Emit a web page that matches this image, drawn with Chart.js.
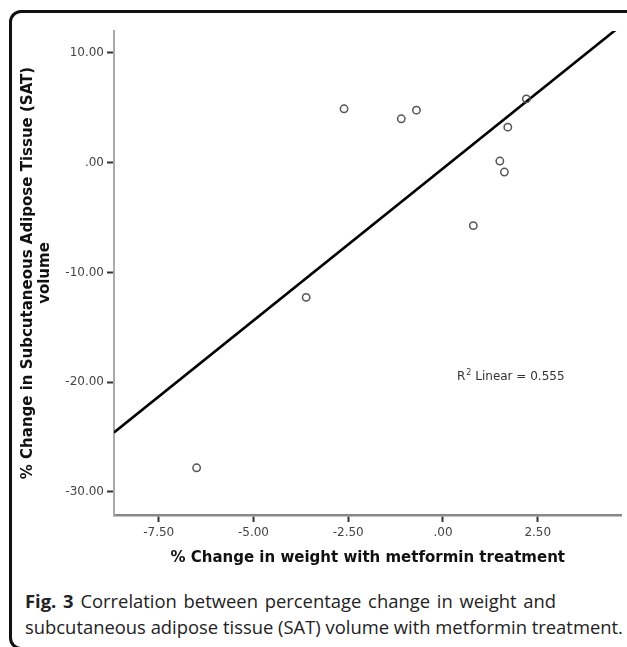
<!DOCTYPE html>
<html>
<head>
<meta charset="utf-8">
<script src="https://cdn.jsdelivr.net/npm/chart.js@4"></script>
<style>
  html, body { margin: 0; overflow: hidden; }
  body { background: #fff; width: 627px; height: 647px; position: relative; }
  #frame { position: absolute; left: 9px; top: 10px; width: 660px; height: 634px; border: 3px solid #111; border-radius: 12px; }
  #wrap { position: absolute; left: 0; top: 0; width: 627px; height: 580px; }
  #caption { position: absolute; left: 25px; top: 588px; font-family: "Open Sans", sans-serif; font-size: 18.4px; line-height: 26px; color: #222; white-space: nowrap; }
  #caption .l1 { word-spacing: 2px; }
</style>
</head>
<body>
<div id="frame"></div>
<div id="wrap"><canvas id="c" width="627" height="580"></canvas></div>
<div id="caption"><span class="l1"><b>Fig. 3</b> Correlation between percentage change in weight and</span><br>subcutaneous adipose tissue (SAT) volume with metformin treatment.</div>
<script>
// % change in weight vs % change in SAT volume
const weightChange = [-6.5, -3.61, -2.61, -1.10, -0.70, 0.80, 1.50, 1.62, 1.71, 2.20];
const satChange = [-27.8, -12.27, 4.91, 4.0, 4.79, -5.73, 0.15, -0.85, 3.24, 5.82];

const xTicks = [-7.5, -5, -2.5, 0, 2.5];
const yTicks = [-30, -20, -10, 0, 10];
const xRange = [-8.68, 4.71];
const yRange = [-32.1, 12.0];

const r2Text = "0.555";
const r2Pos = [0.37, -19.5];

// least squares fit through the points
const n = weightChange.length;
const mx = weightChange.reduce((a, b) => a + b, 0) / n;
const my = satChange.reduce((a, b) => a + b, 0) / n;
let sxy = 0, sxx = 0;
for (let i = 0; i < n; i++) {
  sxy += (weightChange[i] - mx) * (satChange[i] - my);
  sxx += (weightChange[i] - mx) ** 2;
}
const slope = sxy / sxx;
const intercept = my - slope * mx;
const fitLine = xRange.map((x) => ({ x: x, y: intercept + slope * x }));

const spssFormat = (v) => (v === 0 ? ".00" : v.toFixed(2));

const r2Label = {
  id: "r2Label",
  afterDatasetsDraw(chart) {
    const ctx = chart.ctx;
    const x = chart.scales.x.getPixelForValue(r2Pos[0]);
    const y = chart.scales.y.getPixelForValue(r2Pos[1]);
    ctx.save();
    ctx.fillStyle = "#333";
    ctx.textBaseline = "middle";
    ctx.textAlign = "left";
    ctx.font = "12px 'DejaVu Sans'";
    ctx.fillText("R", x, y);
    let w = ctx.measureText("R").width + 1;
    ctx.font = "8px 'DejaVu Sans'";
    ctx.fillText("2", x + w, y - 4);
    w += ctx.measureText("2").width;
    ctx.font = "12px 'DejaVu Sans'";
    ctx.fillText(" Linear = " + r2Text, x + w, y);
    ctx.restore();
  },
};

const data = {
  datasets: [
    {
      type: "scatter",
      data: weightChange.map((x, i) => ({ x: x, y: satChange[i] })),
      pointRadius: 3.7,
      pointBorderWidth: 1.5,
      pointBorderColor: "#555",
      pointBackgroundColor: "rgba(255,255,255,0)",
      order: 1,
    },
    {
      type: "line",
      data: fitLine,
      borderColor: "#000",
      borderWidth: 2.6,
      pointRadius: 0,
      fill: false,
      order: 2,
    },
  ],
};

const options = {
  responsive: false,
  animation: false,
  devicePixelRatio: 1,
  layout: { padding: { left: 0, right: 4, top: 31, bottom: 0 } },
  plugins: { legend: { display: false }, tooltip: { enabled: false } },
  scales: {
    x: {
      type: "linear",
      min: xRange[0],
      max: xRange[1],
      afterFit: (s) => { s.height = 65; },
      afterBuildTicks: (s) => { s.ticks = xTicks.map((v) => ({ value: v })); },
      ticks: {
        callback: spssFormat,
        color: "#444",
        padding: 4,
        font: { family: "DejaVu Sans", size: 12 },
      },
      grid: { drawOnChartArea: false, tickLength: 7, tickWidth: 2, tickColor: "#333" },
      border: { color: "#888", width: 2.5 },
      title: {
        display: true,
        text: "% Change in weight with metformin treatment",
        color: "#111",
        font: { family: "DejaVu Sans", size: 15, weight: "bold", lineHeight: 1.15 },
        padding: { top: 0, bottom: 13 },
      },
    },
    y: {
      type: "linear",
      min: yRange[0],
      max: yRange[1],
      afterFit: (s) => { s.width = 114; },
      afterBuildTicks: (s) => { s.ticks = yTicks.map((v) => ({ value: v })); },
      ticks: {
        callback: spssFormat,
        color: "#444",
        padding: 3,
        font: { family: "DejaVu Sans", size: 12 },
      },
      grid: { drawOnChartArea: false, tickLength: 7, tickWidth: 2, tickColor: "#333" },
      border: { color: "#aaa", width: 2 },
      title: {
        display: true,
        text: ["% Change in Subcutaneous Adipose Tissue (SAT)", "volume"],
        color: "#111",
        font: { family: "DejaVu Sans", size: 15, weight: "bold", lineHeight: 1.15 },
        padding: { top: 19, bottom: 0 },
      },
    },
  },
};

const chart = new Chart(document.getElementById("c"), {
  type: "scatter",
  data: data,
  options: options,
  plugins: [r2Label],
});
</script>
</body>
</html>
